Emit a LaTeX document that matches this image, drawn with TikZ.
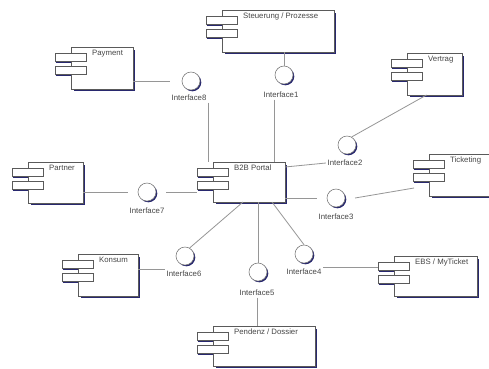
\documentclass[tikz,border=0pt]{standalone}
\usepackage{fontspec}
\setmainfont{Liberation Sans}
\usetikzlibrary{calc}
\definecolor{navy}{RGB}{40,40,110}
\definecolor{lnk}{RGB}{150,150,150}
\definecolor{edgec}{RGB}{90,90,90}
\definecolor{txt}{RGB}{70,70,70}
\tikzset{
  compbox/.style={draw=edgec, fill=white, line width=0.6pt, inner sep=0pt, outer sep=0pt},
  portbox/.style={draw=edgec, fill=white, line width=0.6pt, inner sep=0pt, outer sep=0pt, minimum width=31pt, minimum height=8.5pt, anchor=north west},
  shadowline/.style={draw=navy, line width=1.6pt},
  complabel/.style={font=\fontsize{7.8}{9}\selectfont, text=txt, inner sep=0pt, anchor=north west},
  iflabel/.style={font=\fontsize{7.8}{9}\selectfont, text=txt, inner sep=1.5pt},
  ifcircle/.style={circle, draw=edgec!80, fill=white, line width=0.6pt, minimum size=18pt, inner sep=0pt},
  link/.style={draw=lnk, line width=0.8pt},
}
\newcommand{\umlcomp}[6]{%
  \draw[shadowline] (#4+1.2,#3+3) -- (#4+1.2,#5+1.2) -- (#2+3,#5+1.2);
  \node[compbox, anchor=north west, minimum width={#4-#2}, minimum height={#5-#3}] (#1) at (#2,#3) {};
  \node[complabel] (#1-t) at (#2+21,#3+3) {#6};
  \draw[shadowline, line width=1.3pt] (#2-15.5,#3+15.2) -- (#2,#3+15.2);
  \draw[shadowline, line width=1.3pt] (#2-15.5,#3+28.2) -- (#2,#3+28.2);
  \node[portbox] (#1-a) at (#2-16,#3+6) {};
  \node[portbox] (#1-b) at (#2-16,#3+19) {};
}
\newcommand{\umlif}[6]{%
  \fill[navy] (#2+1.3,#3+1.3) circle (9pt);
  \node[ifcircle] (#1) at (#2,#3) {};
  \node[iflabel] (#1-l) at (#4,#5) {#6};
}
\begin{document}
\begin{tikzpicture}[x=1pt,y=-1pt]
\useasboundingbox (0,0) rectangle (489,368);
\fill[white] (0,0) rectangle (489,368);
\clip (0,0) rectangle (489,368);

\umlcomp{steu}{222}{10}{334}{52}{Steuerung / Prozesse}
\umlcomp{pay}{71}{47}{133}{89}{Payment}
\umlcomp{vert}{407}{53}{462}{95}{Vertrag}
\umlcomp{part}{28}{162}{83}{203}{Partner}
\umlcomp{b2b}{213}{162}{285}{202}{B2B Portal}
\umlcomp{tick}{429}{154}{491}{196}{Ticketing}
\umlcomp{kon}{78}{254}{138}{296}{Konsum}
\umlcomp{ebs}{394}{256}{477}{296}{EBS / MyTicket}
\umlcomp{pend}{213}{326}{315}{366}{Pendenz / Dossier}

\umlif{i1}{284}{75}{281}{95}{Interface1}
\umlif{i8}{191}{81}{189}{98}{Interface8}
\umlif{i2}{347}{145}{345}{163}{Interface2}
\umlif{i3}{336}{198}{336}{217}{Interface3}
\umlif{i4}{304}{254}{304}{272}{Interface4}
\umlif{i5}{258}{272}{257}{293}{Interface5}
\umlif{i6}{185}{256}{184}{274}{Interface6}
\umlif{i7}{147}{192}{147}{211}{Interface7}

\draw[link] (steu.south -| i1) -- (i1.north);
\draw[link] ([xshift=-7pt]i1-l.south) -- ([xshift=-7pt]i1-l.south |- b2b.north);
\draw[link] (pay.east |- i8) -- (i8-l.west |- i8);
\draw[link] (i8-l.south east) -- (i8-l.south east |- b2b.north);
\draw[link] ([xshift=-8pt]vert.south) -- (i2.60);
\draw[link] ([yshift=-5pt]b2b.north east) -- (i2-l.west);
\draw[link] (b2b.east |- i3) -- (i3-l.west |- i3);
\draw[link] (i3-l.east |- i3) -- ([xshift=-15pt,yshift=8pt]tick.south west);
\draw[link] ([xshift=-13pt]b2b.south east) -- (i4.north);
\draw[link] (i4-l.north east) -- (i4-l.north east -| ebs-a.west);
\draw[link] (i5 |- b2b.south) -- (i5.north);
\draw[link] (i5-l.south) -- (i5-l.south |- pend.north);
\draw[link] (i6.60) -- ([xshift=30pt]b2b.south west);
\draw[link] (kon.east |- i6-l.north west) -- (i6-l.north west);
\draw[link] (part.east |- i7) -- (i7-l.west |- i7);
\draw[link] (i7-l.east |- i7) -- (b2b-a.west |- i7);
\end{tikzpicture}
\end{document}
